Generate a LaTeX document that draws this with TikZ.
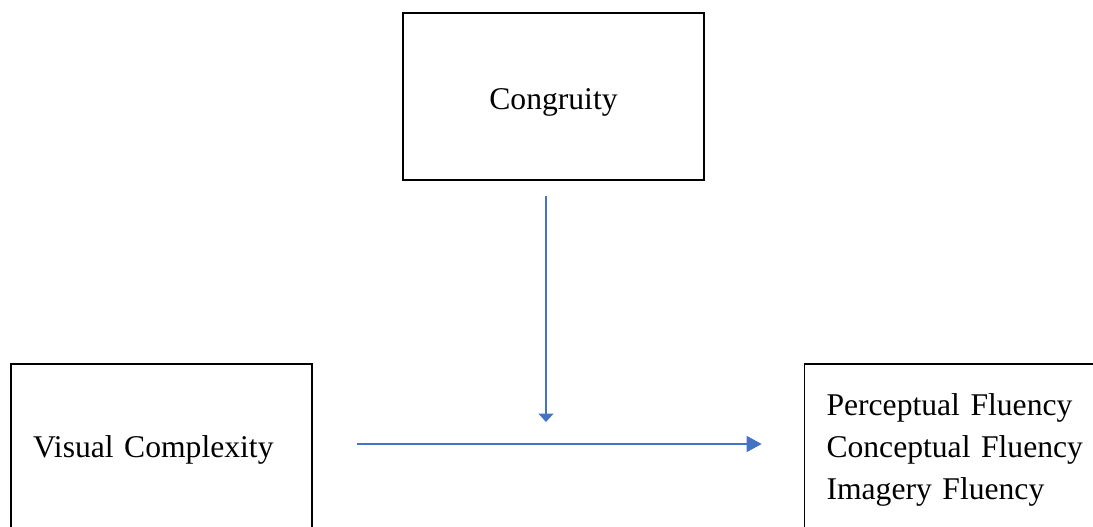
\documentclass[tikz,border=0pt]{standalone}
\usepackage{fontspec}
\setmainfont{Liberation Serif}
\usetikzlibrary{arrows.meta, positioning, calc}
\definecolor{linkblue}{HTML}{4472C4}
\tikzset{
    base/.style={draw, line width=1pt, font=\fontsize{18}{24}\selectfont, fill=white},
    varbox/.style={base, rectangle, minimum width=6.02cm, minimum height=3.34cm, text height=0.66cm},
    leftbox/.style={base, rectangle, text width=5.14cm, inner xsep=0.44cm, minimum height=3.44cm, align=left},
    arrow/.style={-{Triangle[length=0.3cm, width=0.32cm]}, line width=0.9pt, draw=linkblue},
    modarrow/.style={-{Triangle[length=0.17cm, width=0.3cm]}, line width=0.9pt, draw=linkblue}
}

\begin{document}
\begin{tikzpicture}[x=0.02cm, y=-0.02cm]
    \useasboundingbox (0,0) rectangle (1093,527);

    \node (congruity) [varbox] at (553.5,96.5) {Congruity};
    \node (visual) [leftbox] at (161.5,450) {Visual Complexity};
    \node (fluency) [leftbox] at (955,450) {Perceptual Fluency\\ Conceptual\ Fluency\\ Imagery Fluency};

    \coordinate (mid) at (546,444);

    \draw [arrow, shorten <=0.88cm, shorten >=0.84cm] (visual.east |- mid) -- (fluency.west |- mid);
    \draw [modarrow, shorten <=0.3cm, shorten >=0.44cm] (congruity.south -| mid) -- (mid);
\end{tikzpicture}
\end{document}
